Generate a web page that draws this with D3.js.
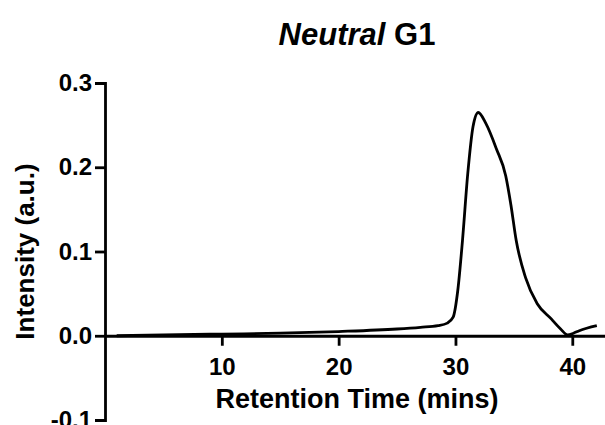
<!DOCTYPE html>
<html>
<head>
<meta charset="utf-8">
<script src="https://cdn.jsdelivr.net/npm/d3@7"></script>
<style>
  html, body { margin: 0; padding: 0; background: #fff; }
  svg { display: block; font-family: "Liberation Sans", Arial, sans-serif; }
</style>
</head>
<body>
<svg id="chart" width="605" height="425"></svg>
<script>
// Chromatogram trace: retention time (mins) and detector intensity (a.u.)
const retentionTime = [1.0, 5.0, 10, 15, 20, 25, 27, 28.5, 29.3, 29.8, 30.2, 30.6, 31.05, 31.5, 31.95,
  32.6, 33.5, 34.3, 34.75, 35.2, 36.0, 37.0, 38.2, 39.0, 39.6, 40.1, 40.6, 42.1];
const intensity = [0.000, 0.001, 0.002, 0.003, 0.005, 0.008, 0.010, 0.012, 0.015, 0.022, 0.054, 0.113, 0.192, 0.248, 0.265,
  0.252, 0.222, 0.190, 0.155, 0.113, 0.069, 0.038, 0.020, 0.008, 0.001, 0.003, 0.006, 0.012];
const xTicks = [10, 20, 30, 40];
const yTicks = [-0.1, 0.0, 0.1, 0.2, 0.3];
const yTickLabels = ["-0.1", "0.0", "0.1", "0.2", "0.3"];

const svg = d3.select("#chart");
const x = d3.scaleLinear().domain([0, 42.8]).range([105, 605]);
const y = d3.scaleLinear().domain([-0.1, 0.3]).range([420, 83]);

const stroke = 2.8;

// Y axis
const yAxis = svg.append("g")
  .attr("transform", `translate(${x(0)},0)`)
  .call(d3.axisLeft(y).tickValues(yTicks).tickFormat((d, i) => yTickLabels[i]).tickSize(10).tickPadding(3));
yAxis.selectAll("path, line").attr("stroke", "#000").attr("stroke-width", stroke);
yAxis.selectAll("text").attr("font-size", 24).attr("font-weight", "bold").attr("fill", "#000");

// X axis drawn along intensity = 0
const xAxis = svg.append("g")
  .attr("transform", `translate(0,${y(0)})`)
  .call(d3.axisBottom(x).tickValues(xTicks).tickSizeInner(10).tickSizeOuter(0).tickPadding(12));
xAxis.selectAll("path, line").attr("stroke", "#000").attr("stroke-width", stroke);
xAxis.selectAll("text").attr("font-size", 24).attr("font-weight", "bold").attr("fill", "#000");

// Trace
const data = retentionTime.map((t, i) => [t, intensity[i]]);
svg.append("path")
  .datum(data)
  .attr("fill", "none")
  .attr("stroke", "#000")
  .attr("stroke-width", stroke)
  .attr("stroke-linejoin", "round")
  .attr("d", d3.line().x(d => x(d[0])).y(d => y(d[1])).curve(d3.curveMonotoneX));

// Title
const title = svg.append("text")
  .attr("x", 357).attr("y", 45)
  .attr("text-anchor", "middle")
  .attr("font-size", 31).attr("font-weight", "bold");
title.append("tspan").attr("font-style", "italic").text("Neutral");
title.append("tspan").text(" G1");

// Axis titles
svg.append("text")
  .attr("x", 357).attr("y", 408)
  .attr("text-anchor", "middle")
  .attr("font-size", 27).attr("font-weight", "bold")
  .text("Retention Time (mins)");

svg.append("text")
  .attr("transform", `translate(34,${(y(0.3) + y(-0.1)) / 2}) rotate(-90)`)
  .attr("text-anchor", "middle")
  .attr("font-size", 26).attr("font-weight", "bold")
  .text("Intensity (a.u.)");
</script>
</body>
</html>
